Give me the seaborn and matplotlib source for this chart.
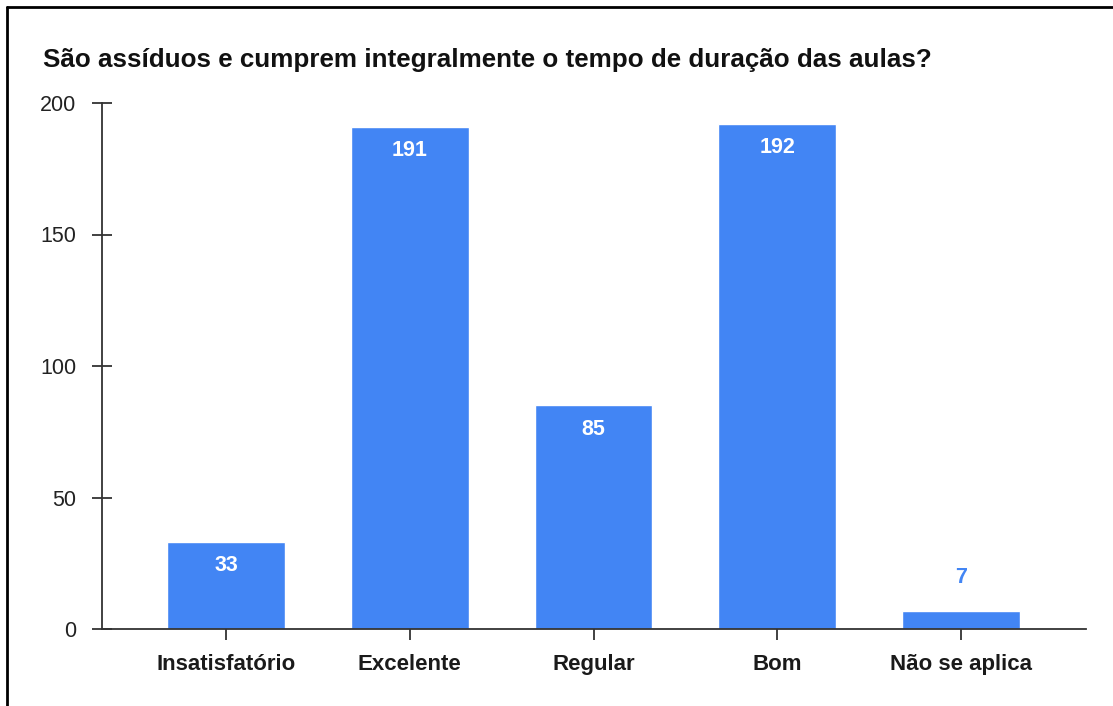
import matplotlib
matplotlib.use("Agg")
import matplotlib.pyplot as plt
import seaborn as sns
import pandas as pd
from matplotlib.lines import Line2D

categories = ["Insatisfatório", "Excelente", "Regular", "Bom", "Não se aplica"]
values = [33, 191, 85, 192, 7]
yticks = [0, 50, 100, 150, 200]
title = "São assíduos e cumprem integralmente o tempo de duração das aulas?"

BLUE = "#4285F4"
AXC = "#333333"

sns.set_theme(style="white")
plt.rcParams['font.family'] = ['Liberation Sans', 'DejaVu Sans']

df = pd.DataFrame({"cat": categories, "val": values})

fig = plt.figure(figsize=(11.13, 7.06), dpi=100)
ax = fig.add_axes([102/1113, 77/706, 984/1113, 526/706])

sns.barplot(data=df, x="cat", y="val", color=BLUE, saturation=1, width=0.64, ax=ax)

ax.set_xlim(-0.675, 4.68)
ax.set_ylim(0, 200)
ax.set_yticks(yticks)
ax.set_yticklabels([str(t) for t in yticks], fontsize=15.5, color="#222222")
ax.set_xlabel("")
ax.set_ylabel("")
for lbl in ax.get_xticklabels():
    lbl.set_fontweight("bold")
    lbl.set_fontsize(16)
    lbl.set_color("#1a1a1a")

for s in ["top", "right"]:
    ax.spines[s].set_visible(False)
for s in ["left", "bottom"]:
    ax.spines[s].set_color(AXC)
    ax.spines[s].set_linewidth(1.3)

ax.tick_params(axis="y", direction="inout", length=15, width=1.3, color=AXC, pad=11, left=True)
ax.tick_params(axis="x", direction="inout", length=16, width=1.3, color=AXC, pad=10, bottom=True)

for i, v in enumerate(values):
    if v > 20:
        ax.annotate(str(v), (i, v), xytext=(0, -17), textcoords="offset points",
                    ha="center", va="center", color="white", fontsize=15.5, fontweight="bold")
    else:
        ax.annotate(str(v), (i, v), xytext=(0, 24), textcoords="offset points",
                    ha="center", va="center", color=BLUE, fontsize=15.5, fontweight="bold")

fig.text(43/1113, 1 - 60/706, title, fontsize=18.7, fontweight="bold", color="#111111",
         ha="left", va="center")

# outer frame (top and left edges visible)
fig.add_artist(Line2D([7/1113, 1.0], [1 - 7/706, 1 - 7/706], transform=fig.transFigure,
                      color="black", linewidth=2))
fig.add_artist(Line2D([7/1113, 7/1113], [0, 1 - 7/706], transform=fig.transFigure,
                      color="black", linewidth=2))

fig.savefig("out.png", dpi=100, facecolor="white")
